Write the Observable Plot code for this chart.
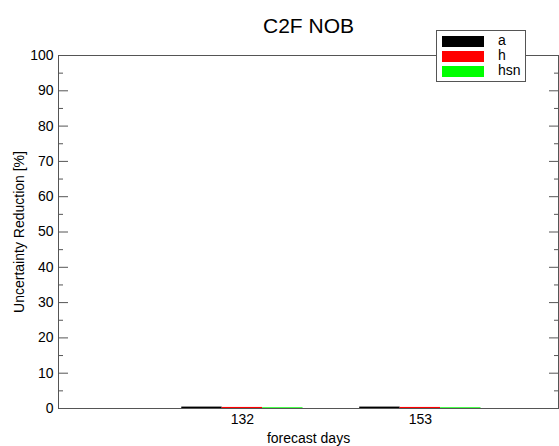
<!DOCTYPE html>
<html><head><meta charset="utf-8">
<script src="https://cdn.jsdelivr.net/npm/d3@7"></script>
<script src="https://cdn.jsdelivr.net/npm/@observablehq/plot@0.6"></script>
<style>
body{margin:0;background:#fff;font-family:"Liberation Sans",Arial,sans-serif;}
#wrap{position:relative;width:559px;height:446px;}
#legend{position:absolute;left:436px;top:30px;width:90px;height:52px;border:1px solid #555;background:#fff;box-sizing:border-box;font-size:14px;}
.row{position:absolute;left:5px;height:11px;}
.sw{position:absolute;left:0;top:0;width:42px;height:11px;}
.lb{position:absolute;left:56px;top:-4px;color:#000;line-height:16px;}
</style></head>
<body><div id="wrap"><div id="chart"></div><div id="legend"></div></div>
<script>
const days = [132, 153];
const series = ["a", "h", "hsn"];
const colors = ["#000000", "#ff0000", "#00ff00"];
const valuesA = [0.4, 0.4];
const valuesH = [0.3, 0.3];
const valuesHsn = [0.2, 0.2];
const yTicks = [0,10,20,30,40,50,60,70,80,90,100];
const yMinor = [5,15,25,35,45,55,65,75,85,95];

const barW = 4.77;
const data = [];
days.forEach((d, j) => {
  [valuesA, valuesH, valuesHsn].forEach((vals, i) => {
    const x1 = d - 1.5 * barW + i * barW;
    data.push({day: d, series: series[i], value: vals[j], x1, x2: x1 + barW});
  });
});

const gray = "#555";
const chart = Plot.plot({
  width: 559, height: 446,
  marginLeft: 58, marginRight: 1, marginTop: 55, marginBottom: 38,
  style: {fontFamily: "Liberation Sans, Arial, sans-serif", fontSize: "13px", background: "#fff"},
  x: {domain: [110.3, 169.3]},
  y: {domain: [0, 100]},
  color: {domain: series, range: colors},
  marks: [
    Plot.rectY(data, {x1: "x1", x2: "x2", y: "value", fill: "series"}),
    Plot.ruleY([0, 100], {stroke: gray}),
    Plot.ruleX([110.3, 169.3], {stroke: gray}),
    Plot.axisY(yTicks, {anchor: "left", tickSize: -10, stroke: gray, tickPadding: 15, fontSize: 14, color: "#000",
      label: "Uncertainty Reduction [%]", labelAnchor: "center", labelArrow: "none", labelOffset: 44}),
    Plot.axisY(yMinor, {anchor: "left", tickSize: -5, stroke: gray, text: null, label: null}),
    Plot.axisY(yTicks, {anchor: "right", tickSize: -10, stroke: gray, text: null, label: null}),
    Plot.axisY(yMinor, {anchor: "right", tickSize: -5, stroke: gray, text: null, label: null}),
    Plot.axisX(days, {anchor: "bottom", tickSize: 0, tickPadding: 6, fontSize: 14,
      label: "forecast days", labelAnchor: "center", labelArrow: "none", labelOffset: 34}),
    Plot.text(["C2F NOB"], {frameAnchor: "top", dy: -37, fontSize: 21, fill: "#000"})
  ]
});
document.getElementById("chart").appendChild(chart);

const leg = document.getElementById("legend");
series.forEach((s, i) => {
  const r = document.createElement("div");
  r.className = "row";
  r.style.top = (5 + i * 15) + "px";
  r.innerHTML = `<div class="sw" style="background:${colors[i]}"></div><div class="lb">${s}</div>`;
  leg.appendChild(r);
});
</script></body></html>
